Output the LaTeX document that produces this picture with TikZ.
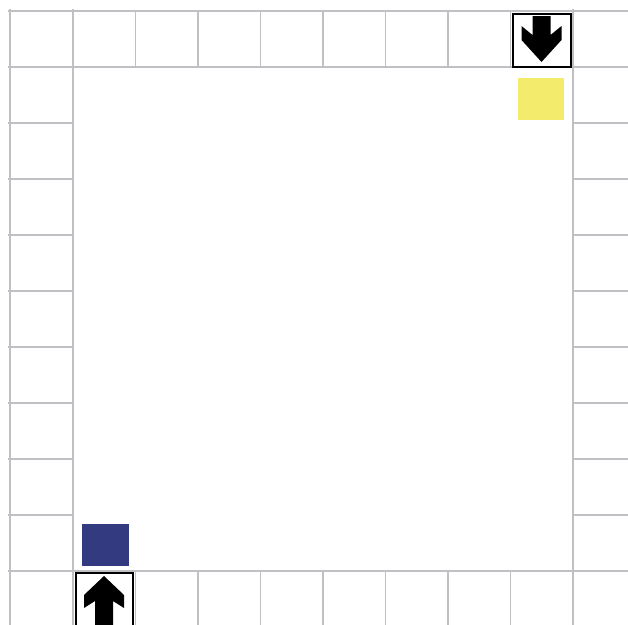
\documentclass[tikz,border=0pt]{standalone}
\definecolor{gridgray}{RGB}{192,192,196}
\definecolor{sqyellow}{RGB}{243,235,107}
\definecolor{sqblue}{RGB}{52,58,128}
\begin{document}
\begin{tikzpicture}[x=1pt,y=-1pt,
  gridline/.style={draw=gridgray, line width=1.5pt},
  arrowbox/.style={draw=black, line width=2pt, fill=white},
  arrowshape/.style={fill=black}]
\useasboundingbox (0,0) rectangle (628,624);
\clip (0,0) rectangle (628,624);
% grid lines
\foreach \y in {11,67,571} \draw[gridline] (8,\y) -- (630,\y);
\foreach \y in {123,179,235,291,347,403,459,515} {
  \draw[gridline] (8,\y) -- (73,\y);
  \draw[gridline] (573,\y) -- (630,\y);
}
\foreach \x in {10,73,573} \draw[gridline] (\x,9) -- (\x,630);
\foreach \x in {135.5,198,260.5,323,385.5,448,510.5} {
  \draw[gridline] (\x,11) -- (\x,67);
  \draw[gridline] (\x,571) -- (\x,630);
}
% coloured squares
\fill[sqyellow] (518,78) rectangle (564,120);
\fill[sqblue] (82,524) rectangle (129,566);
% top arrow box (down arrow)
\draw[arrowbox] (513,14) rectangle (571,66.5);
\begin{scope}[shift={(541.5,62)}]
  \fill[arrowshape] (0,0) -- (-20,-22) -- (-20,-36) -- (-9,-27) -- (-9,-46)
    -- (9,-46) -- (9,-27) -- (20,-36) -- (20,-22) -- cycle;
\end{scope}
% bottom arrow box (up arrow)
\draw[arrowbox] (76,573) rectangle (133,640);
\begin{scope}[shift={(104,576)}]
  \fill[arrowshape] (0,0) -- (-20,19) -- (-20,32) -- (-9,25) -- (-9,60)
    -- (9,60) -- (9,25) -- (20,32) -- (20,19) -- cycle;
\end{scope}
\end{tikzpicture}
\end{document}
